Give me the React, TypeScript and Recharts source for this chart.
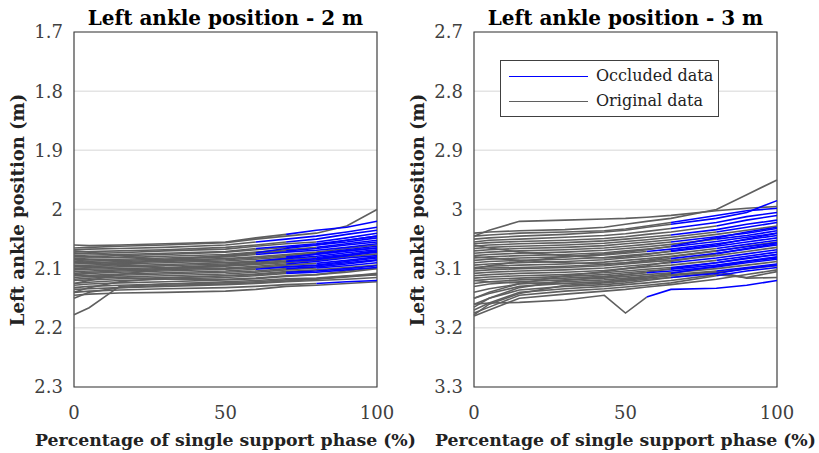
import React from "react";
import { LineChart, Line, XAxis, YAxis, CartesianGrid, ReferenceArea } from "recharts";

const FONT = '"DejaVu Serif", serif';
const GRAY = "#5f5f5f";
const BLUE = "#0000ff";
const AXIS = "#404040";

// 2 m panel
const X_2M = [0, 5, 15, 30, 50, 60, 70, 80, 90, 100];
const TRACES_2M = [
  [2.060, 2.061, 2.060, 2.058, 2.055, 2.048, 2.042, 2.035, 2.030, 2.020],
  [2.065, 2.064, 2.062, 2.060, 2.056, 2.050, 2.045, 2.040, 2.028, 2.000],
  [2.068, 2.067, 2.066, 2.064, 2.060, 2.055, 2.050, 2.045, 2.038, 2.030],
  [2.072, 2.071, 2.070, 2.068, 2.064, 2.060, 2.055, 2.050, 2.042, 2.035],
  [2.075, 2.074, 2.073, 2.070, 2.067, 2.062, 2.058, 2.055, 2.048, 2.040],
  [2.078, 2.077, 2.076, 2.074, 2.071, 2.066, 2.062, 2.058, 2.052, 2.045],
  [2.080, 2.080, 2.078, 2.076, 2.072, 2.068, 2.064, 2.060, 2.055, 2.048],
  [2.083, 2.082, 2.081, 2.079, 2.076, 2.072, 2.068, 2.064, 2.058, 2.052],
  [2.085, 2.085, 2.084, 2.082, 2.079, 2.074, 2.070, 2.066, 2.060, 2.055],
  [2.088, 2.087, 2.086, 2.084, 2.080, 2.076, 2.072, 2.069, 2.064, 2.058],
  [2.090, 2.090, 2.088, 2.086, 2.083, 2.080, 2.076, 2.072, 2.066, 2.060],
  [2.092, 2.091, 2.090, 2.088, 2.085, 2.082, 2.078, 2.074, 2.068, 2.062],
  [2.095, 2.094, 2.092, 2.090, 2.087, 2.084, 2.080, 2.076, 2.070, 2.065],
  [2.097, 2.096, 2.095, 2.093, 2.090, 2.087, 2.083, 2.079, 2.073, 2.068],
  [2.100, 2.099, 2.097, 2.095, 2.092, 2.089, 2.085, 2.081, 2.076, 2.070],
  [2.102, 2.101, 2.100, 2.098, 2.094, 2.091, 2.087, 2.083, 2.078, 2.072],
  [2.105, 2.104, 2.102, 2.100, 2.096, 2.093, 2.090, 2.086, 2.080, 2.075],
  [2.108, 2.106, 2.104, 2.102, 2.099, 2.096, 2.092, 2.088, 2.082, 2.078],
  [2.110, 2.108, 2.106, 2.104, 2.101, 2.098, 2.094, 2.091, 2.086, 2.080],
  [2.112, 2.111, 2.109, 2.107, 2.104, 2.101, 2.097, 2.094, 2.088, 2.082],
  [2.115, 2.113, 2.111, 2.109, 2.106, 2.104, 2.100, 2.097, 2.092, 2.086],
  [2.118, 2.116, 2.114, 2.112, 2.109, 2.106, 2.102, 2.099, 2.095, 2.090],
  [2.120, 2.119, 2.117, 2.115, 2.112, 2.109, 2.105, 2.102, 2.098, 2.094],
  [2.125, 2.123, 2.120, 2.118, 2.115, 2.112, 2.108, 2.106, 2.102, 2.098],
  [2.128, 2.126, 2.124, 2.122, 2.119, 2.117, 2.113, 2.110, 2.106, 2.100],
  [2.132, 2.130, 2.128, 2.126, 2.122, 2.120, 2.117, 2.116, 2.112, 2.110],
  [2.135, 2.134, 2.132, 2.130, 2.127, 2.125, 2.122, 2.120, 2.118, 2.115],
  [2.140, 2.138, 2.136, 2.134, 2.132, 2.130, 2.127, 2.125, 2.122, 2.120],
  [2.145, 2.143, 2.141, 2.140, 2.138, 2.135, 2.130, 2.128, 2.125, 2.122],
  [2.150, 2.140, 2.132, 2.128, 2.126, 2.124, 2.121, 2.118, 2.114, 2.110],
  [2.178, 2.166, 2.130, 2.126, 2.124, 2.122, 2.119, 2.117, 2.113, 2.108],
  [2.070, 2.072, 2.078, 2.085, 2.090, 2.088, 2.082, 2.075, 2.070, 2.065],
  [2.100, 2.098, 2.092, 2.085, 2.078, 2.073, 2.066, 2.060, 2.052, 2.045],
  [2.125, 2.120, 2.110, 2.100, 2.095, 2.092, 2.088, 2.085, 2.078, 2.070],
  [2.085, 2.088, 2.092, 2.098, 2.100, 2.099, 2.097, 2.095, 2.090, 2.085],
  [2.140, 2.132, 2.122, 2.116, 2.112, 2.110, 2.106, 2.104, 2.100, 2.095],
  [2.110, 2.112, 2.115, 2.118, 2.118, 2.116, 2.112, 2.110, 2.104, 2.098],
];
// index in X_2M where the occluded (blue) part begins, null = fully original
const OCC_2M = [
  6, null, 5, 6, 7, 5, 6, 7, 6, 5, null, 7, 6, 5, 7, 6, null, 6, 7, 5,
  6, 7, null, 6, null, null, null, 7, null, null, null, 6, 5, 6, 7, 6, null,
];

// 3 m panel
const X_3M = [0, 5, 15, 30, 43, 50, 57, 65, 80, 90, 100];
const TRACES_3M = [
  [3.045, 3.035, 3.020, 3.018, 3.016, 3.015, 3.013, 3.010, 3.002, 2.998, 2.995],
  [3.040, 3.038, 3.036, 3.034, 3.030, 3.025, 3.020, 3.015, 3.000, 2.975, 2.950],
  [3.050, 3.048, 3.045, 3.042, 3.038, 3.035, 3.030, 3.025, 3.015, 3.005, 2.985],
  [3.055, 3.052, 3.050, 3.047, 3.044, 3.041, 3.037, 3.032, 3.022, 3.012, 3.005],
  [3.058, 3.056, 3.054, 3.052, 3.049, 3.046, 3.042, 3.038, 3.028, 3.018, 3.010],
  [3.062, 3.060, 3.058, 3.056, 3.053, 3.050, 3.047, 3.043, 3.034, 3.025, 3.018],
  [3.066, 3.064, 3.062, 3.060, 3.057, 3.054, 3.051, 3.047, 3.038, 3.030, 3.022],
  [3.070, 3.068, 3.066, 3.064, 3.061, 3.058, 3.055, 3.051, 3.042, 3.035, 3.028],
  [3.074, 3.072, 3.070, 3.068, 3.065, 3.062, 3.059, 3.055, 3.046, 3.040, 3.032],
  [3.078, 3.076, 3.074, 3.072, 3.069, 3.066, 3.063, 3.059, 3.050, 3.044, 3.036],
  [3.082, 3.080, 3.078, 3.076, 3.073, 3.070, 3.067, 3.063, 3.054, 3.047, 3.040],
  [3.086, 3.084, 3.082, 3.080, 3.077, 3.074, 3.071, 3.067, 3.058, 3.051, 3.044],
  [3.090, 3.088, 3.086, 3.084, 3.081, 3.078, 3.075, 3.071, 3.062, 3.055, 3.048],
  [3.094, 3.092, 3.090, 3.088, 3.085, 3.082, 3.079, 3.075, 3.066, 3.059, 3.052],
  [3.098, 3.096, 3.094, 3.092, 3.089, 3.086, 3.083, 3.079, 3.070, 3.063, 3.056],
  [3.100, 3.099, 3.098, 3.096, 3.093, 3.090, 3.087, 3.083, 3.074, 3.067, 3.060],
  [3.104, 3.102, 3.100, 3.098, 3.095, 3.092, 3.089, 3.086, 3.078, 3.071, 3.064],
  [3.108, 3.106, 3.104, 3.102, 3.099, 3.096, 3.093, 3.090, 3.082, 3.075, 3.068],
  [3.112, 3.110, 3.108, 3.106, 3.103, 3.100, 3.097, 3.094, 3.086, 3.079, 3.072],
  [3.116, 3.114, 3.112, 3.110, 3.107, 3.104, 3.101, 3.098, 3.090, 3.083, 3.076],
  [3.120, 3.118, 3.116, 3.113, 3.110, 3.107, 3.104, 3.101, 3.094, 3.087, 3.080],
  [3.125, 3.122, 3.119, 3.116, 3.113, 3.110, 3.107, 3.104, 3.097, 3.090, 3.084],
  [3.130, 3.126, 3.122, 3.119, 3.116, 3.113, 3.110, 3.107, 3.100, 3.094, 3.088],
  [3.140, 3.134, 3.126, 3.122, 3.119, 3.116, 3.113, 3.110, 3.104, 3.098, 3.092],
  [3.150, 3.142, 3.130, 3.125, 3.122, 3.119, 3.116, 3.112, 3.105, 3.116, 3.115],
  [3.160, 3.150, 3.136, 3.130, 3.127, 3.124, 3.120, 3.115, 3.106, 3.100, 3.095],
  [3.170, 3.158, 3.140, 3.134, 3.130, 3.127, 3.124, 3.120, 3.110, 3.115, 3.105],
  [3.175, 3.165, 3.145, 3.138, 3.134, 3.131, 3.128, 3.124, 3.112, 3.104, 3.098],
  [3.160, 3.158, 3.157, 3.153, 3.145, 3.175, 3.148, 3.135, 3.133, 3.128, 3.120],
  [3.180, 3.170, 3.150, 3.143, 3.138, 3.135, 3.131, 3.127, 3.118, 3.110, 3.102],
  [3.178, 3.160, 3.142, 3.128, 3.124, 3.121, 3.118, 3.115, 3.108, 3.100, 3.094],
  [3.045, 3.043, 3.040, 3.038, 3.036, 3.033, 3.028, 3.022, 3.010, 3.002, 2.998],
  [3.060, 3.065, 3.072, 3.078, 3.082, 3.080, 3.076, 3.070, 3.060, 3.050, 3.040],
  [3.100, 3.095, 3.088, 3.080, 3.075, 3.072, 3.068, 3.062, 3.048, 3.038, 3.030],
  [3.150, 3.140, 3.125, 3.112, 3.105, 3.100, 3.095, 3.088, 3.075, 3.066, 3.058],
  [3.120, 3.122, 3.124, 3.125, 3.122, 3.118, 3.114, 3.108, 3.096, 3.088, 3.082],
  [3.080, 3.082, 3.086, 3.090, 3.092, 3.090, 3.086, 3.080, 3.070, 3.062, 3.055],
  [3.165, 3.150, 3.132, 3.120, 3.114, 3.110, 3.106, 3.100, 3.090, 3.082, 3.076],
];
const OCC_3M = [
  null, null, 7, 7, 8, 7, 8, null, 7, 8, 7, 6, 7, 8, 8, 7, null, 7, 8, 7,
  7, 6, null, 8, null, null, null, 8, 6, null, 7, 7, 7, 7, 8, 7, null, 7,
];

const TICKS_2M = [1.7, 1.8, 1.9, 2.0, 2.1, 2.2, 2.3];
const TICKS_3M = [2.7, 2.8, 2.9, 3.0, 3.1, 3.2, 3.3];
const X_TICKS = [0, 50, 100];

function buildRows(xs: number[], traces: number[][], occ: (number | null)[]) {
  return xs.map((x, i) => {
    const row: Record<string, number | null> = { x };
    traces.forEach((t, k) => {
      const o = occ[k];
      row["g" + k] = o === null || i <= o ? t[i] : null;
      row["b" + k] = o !== null && i >= o ? t[i] : null;
    });
    return row;
  });
}

type PanelProps = {
  left: number;
  width: number;
  marginLeft: number;
  marginRight: number;
  title: string;
  xs: number[];
  traces: number[][];
  occ: (number | null)[];
  yTicks: number[];
  legend?: boolean;
};

function Panel({ left, width, marginLeft, marginRight, title, xs, traces, occ, yTicks, legend }: PanelProps) {
  const rows = buildRows(xs, traces, occ);
  const plotLeft = left + marginLeft + 30;
  const plotRight = left + width - marginRight;
  const cx = (plotLeft + plotRight) / 2;
  const yMin = yTicks[0];
  const yMax = yTicks[yTicks.length - 1];
  return (
    <>
      <div
        style={{
          position: "absolute", left: cx - 200, width: 400, top: 6, textAlign: "center",
          fontFamily: FONT, fontWeight: "bold", fontSize: 20, lineHeight: "24px", color: "#000"
        }}
      >
        {title}
      </div>
      <div style={{ position: "absolute", left, top: 0 }}>
        <LineChart width={width} height={453} data={rows}
          margin={{ top: 32, right: marginRight, left: marginLeft, bottom: 36 }}>
          <CartesianGrid vertical={false} stroke="#e4e4e4" strokeWidth={1.5} />
          <XAxis dataKey="x" type="number" domain={[0, 100]} ticks={X_TICKS} height={30}
            tickLine={false} axisLine={false} tickMargin={13}
            tick={{ fill: AXIS, fontSize: 18, fontFamily: FONT }} />
          <YAxis type="number" domain={[yMin, yMax]} reversed ticks={yTicks} width={30}
            allowDataOverflow tickLine={false} axisLine={false} tickMargin={5}
            tickFormatter={(v: number) => String(Number(v.toFixed(1)))}
            tick={{ fill: AXIS, fontSize: 18, fontFamily: FONT }} />
          {traces.map((_, k) => (
            <Line key={"g" + k} dataKey={"g" + k} type="linear" stroke={GRAY} strokeWidth={1.6}
              dot={false} activeDot={false} isAnimationActive={false} />
          ))}
          {traces.map((_, k) =>
            occ[k] === null ? null : (
              <Line key={"b" + k} dataKey={"b" + k} type="linear" stroke={BLUE} strokeWidth={1.6}
                dot={false} activeDot={false} isAnimationActive={false} />
            )
          )}
          <ReferenceArea x1={0} x2={100} y1={yMin} y2={yMax} fill="none" fillOpacity={0}
            stroke={AXIS} strokeWidth={1.2} />
        </LineChart>
      </div>
      <div
        style={{
          position: "absolute", left: cx - 220, width: 440, top: 429, textAlign: "center",
          fontFamily: FONT, fontWeight: "bold", fontSize: 17.3, lineHeight: "22px", color: "#222"
        }}
      >
        Percentage of single support phase (%)
      </div>
      <div
        style={{
          position: "absolute", left: left + (legend ? 8 : 18) - 150, top: 199, width: 300, textAlign: "center",
          transform: "rotate(-90deg)", fontFamily: FONT, fontWeight: "bold", fontSize: 18,
          lineHeight: "22px", color: "#222"
        }}
      >
        Left ankle position (m)
      </div>
      {legend && (
        <div
          style={{
            position: "absolute", left: 500, top: 60, width: 217, height: 55,
            border: `1.5px solid ${AXIS}`, background: "#fff", fontFamily: FONT, fontSize: 16, color: "#222"
          }}
        >
          <div style={{ position: "absolute", left: 8, top: 15, width: 79, borderTop: `1.5px solid ${BLUE}` }} />
          <div style={{ position: "absolute", left: 95, top: 5, lineHeight: "20px" }}>Occluded data</div>
          <div style={{ position: "absolute", left: 8, top: 40, width: 79, borderTop: `1.2px solid ${GRAY}` }} />
          <div style={{ position: "absolute", left: 95, top: 30, lineHeight: "20px" }}>Original data</div>
        </div>
      )}
    </>
  );
}

export default function App() {
  return (
    <div style={{ position: "absolute", left: 0, top: 0, width: 819, height: 453, background: "#fff", overflow: "hidden" }}>
      <Panel left={0} width={410} marginLeft={44} marginRight={33} title="Left ankle position - 2 m"
        xs={X_2M} traces={TRACES_2M} occ={OCC_2M} yTicks={TICKS_2M} />
      <Panel left={410} width={409} marginLeft={34} marginRight={42} title="Left ankle position - 3 m"
        xs={X_3M} traces={TRACES_3M} occ={OCC_3M} yTicks={TICKS_3M} legend />
    </div>
  );
}
